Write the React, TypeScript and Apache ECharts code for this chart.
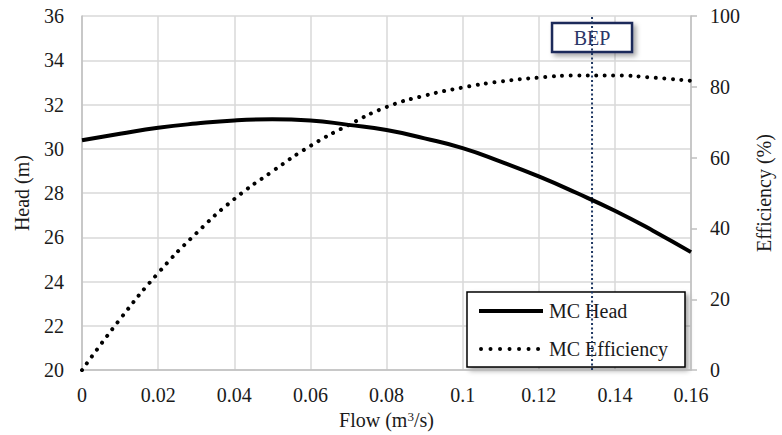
import React, { useEffect, useRef } from "react";
import * as echarts from "echarts";

// Flow (m3/s)
const flow = [0, 0.01, 0.02, 0.03, 0.04, 0.05, 0.06, 0.07, 0.08, 0.09, 0.1, 0.11, 0.12, 0.13, 0.14, 0.15, 0.16];
// MC Head (m)
const head = [30.39, 30.68, 30.95, 31.14, 31.28, 31.33, 31.28, 31.08, 30.85, 30.47, 30.03, 29.42, 28.75, 28.0, 27.2, 26.3, 25.33];
// MC Efficiency (%)
const efficiency = [0, 14.4, 27.4, 38.6, 48.3, 56.1, 63.3, 69.2, 74.3, 77.5, 79.8, 81.5, 82.6, 83.2, 83.2, 82.6, 81.7];
// Best efficiency point flow
const bepFlow = 0.134;
const bepLabel = "BEP";
const legendNames = ["MC Head", "MC Efficiency"];

const headAxis = { min: 20, max: 36, interval: 2 };
const effAxis = { min: 0, max: 100, interval: 20 };
const flowAxis = { min: 0, max: 0.16, interval: 0.02 };

const FONT = "Liberation Serif";
const FS = 20;
const TXT = "#1a1a1a";
const GRID = "#d9d9d9";
const AXIS = "#bfbfbf";
const NAVY = "#1f3864";

export default function App() {
  const ref = useRef<HTMLDivElement>(null);
  useEffect(() => {
    document.body.style.margin = "0";
    if (!ref.current) return;
    const chart = echarts.init(ref.current, undefined, { renderer: "svg" });
    const headData = flow.map((f, i) => [f, head[i]]);
    const effData = flow.map((f, i) => [f, efficiency[i]]);
    const bepData = [
      [bepFlow, effAxis.min],
      [bepFlow, effAxis.max],
    ];
    chart.setOption({
      animation: false,
      textStyle: { fontFamily: FONT },
      grid: { left: 82, right: 85, top: 16, bottom: 59 },
      xAxis: {
        type: "value",
        min: flowAxis.min,
        max: flowAxis.max,
        interval: flowAxis.interval,
        name: "Flow (m{sup|3}/s)",
        nameLocation: "middle",
        nameGap: 33,
        nameTextStyle: {
          fontFamily: FONT,
          fontSize: FS,
          color: TXT,
          rich: { sup: { fontSize: 13, verticalAlign: "top", fontFamily: FONT, color: TXT, padding: [0, 0, 6, 0] } },
        },
        axisLine: { show: true, onZero: false, lineStyle: { color: AXIS, width: 1.5 } },
        axisTick: { show: false },
        axisLabel: { fontFamily: FONT, fontSize: FS, color: TXT, margin: 15 },
        splitLine: { show: true, lineStyle: { color: GRID, width: 1.5 } },
      },
      yAxis: [
        {
          type: "value",
          min: headAxis.min,
          max: headAxis.max,
          interval: headAxis.interval,
          name: "Head (m)",
          nameLocation: "middle",
          nameGap: 50,
          nameTextStyle: { fontFamily: FONT, fontSize: FS, color: TXT },
          axisLine: { show: true, onZero: false, lineStyle: { color: AXIS, width: 1.5 } },
          axisTick: { show: false },
          axisLabel: { fontFamily: FONT, fontSize: FS, color: TXT, margin: 18 },
          splitLine: { show: true, lineStyle: { color: GRID, width: 1.5 } },
        },
        {
          type: "value",
          position: "right",
          min: effAxis.min,
          max: effAxis.max,
          interval: effAxis.interval,
          name: "Efficiency (%)",
          nameLocation: "middle",
          nameGap: 63,
          nameTextStyle: { fontFamily: FONT, fontSize: FS, color: TXT },
          axisLine: { show: true, onZero: false, lineStyle: { color: AXIS, width: 1.5 } },
          axisTick: { show: true, inside: false, length: 6, lineStyle: { color: AXIS, width: 1.5 } },
          axisLabel: { fontFamily: FONT, fontSize: FS, color: TXT, margin: 19 },
          splitLine: { show: false },
        },
      ],
      series: [
        {
          name: "BEP",
          type: "line",
          yAxisIndex: 1,
          data: bepData,
          symbol: "none",
          silent: true,
          lineStyle: { color: NAVY, width: 2, type: [2, 2.5] },
          z: 1,
        },
        {
          name: legendNames[1],
          type: "line",
          yAxisIndex: 1,
          data: effData,
          smooth: true,
          symbol: "none",
          lineStyle: { color: "#000", width: 4, type: [0.01, 8.5], cap: "round" },
          z: 2,
        },
        {
          name: legendNames[0],
          type: "line",
          yAxisIndex: 0,
          data: headData,
          smooth: true,
          symbol: "none",
          lineStyle: { color: "#000", width: 4 },
          z: 3,
        },
      ],
    });
    const bx = chart.convertToPixel({ xAxisIndex: 0 }, bepFlow) as number;
    const lx = 467, ly = 292, lw = 218, lh = 75;
    chart.setOption({
      graphic: [
        {
          type: "group",
          z: 100,
          children: [
            {
              type: "rect",
              shape: { x: bx - 40, y: 23, width: 80, height: 29 },
              style: {
                fill: "#fff",
                stroke: "#1f2a5a",
                lineWidth: 2.5,
                shadowBlur: 5,
                shadowColor: "rgba(0,0,0,0.35)",
                shadowOffsetX: 3,
                shadowOffsetY: 3,
              },
            },
            {
              type: "text",
              x: bx,
              y: 38,
              style: {
                text: bepLabel,
                align: "center",
                verticalAlign: "middle",
                fontFamily: FONT,
                fontSize: FS,
                fill: "#2b3566",
              },
            },
          ],
        },
        {
          type: "group",
          z: 100,
          children: [
            {
              type: "rect",
              shape: { x: lx, y: ly, width: lw, height: lh },
              style: {
                fill: "#fff",
                stroke: "#000",
                lineWidth: 1.5,
                shadowBlur: 5,
                shadowColor: "rgba(0,0,0,0.35)",
                shadowOffsetX: 3,
                shadowOffsetY: 3,
              },
            },
            {
              type: "line",
              shape: { x1: lx + 12, y1: ly + 19, x2: lx + 76, y2: ly + 19 },
              style: { stroke: "#000", lineWidth: 4 },
            },
            {
              type: "text",
              x: lx + 82,
              y: ly + 19,
              style: { text: legendNames[0], verticalAlign: "middle", fontFamily: FONT, fontSize: FS, fill: TXT },
            },
            {
              type: "line",
              shape: { x1: lx + 14, y1: ly + 57, x2: lx + 76, y2: ly + 57 },
              style: { stroke: "#000", lineWidth: 4, lineDash: [0.01, 9.5], lineCap: "round" },
            },
            {
              type: "text",
              x: lx + 82,
              y: ly + 57,
              style: { text: legendNames[1], verticalAlign: "middle", fontFamily: FONT, fontSize: FS, fill: TXT },
            },
          ],
        },
      ],
    });
    return () => chart.dispose();
  }, []);
  return <div ref={ref} style={{ width: 782, height: 435 }} />;
}
